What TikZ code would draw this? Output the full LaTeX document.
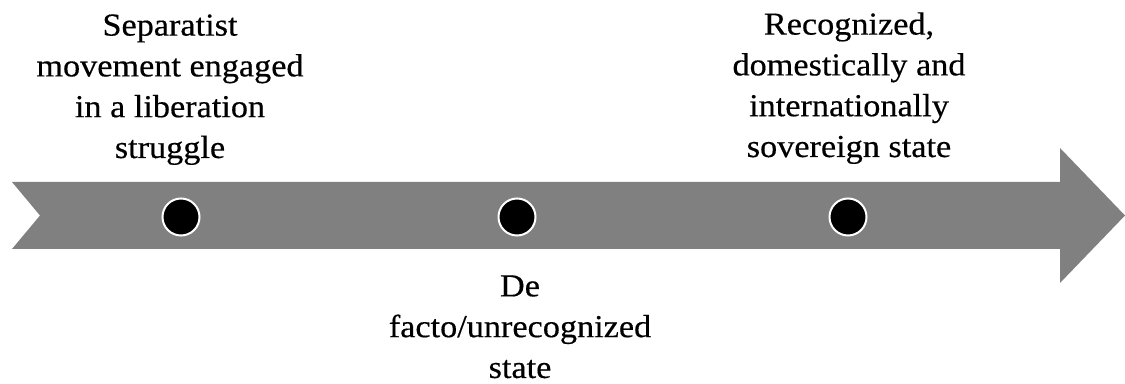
\documentclass[tikz,border=0pt]{standalone}
\usepackage{fontspec}
\setmainfont[FakeStretch=1.07,FakeBold=0.4]{Liberation Serif}
\definecolor{arrowgray}{RGB}{128,128,128}
\begin{document}
\begin{tikzpicture}[x=0.5pt,y=-0.5pt,
  lbl/.style={align=center, anchor=north, inner sep=0pt, text=black,
    font=\fontsize{16}{20.4}\selectfont},
  dot/.style={circle, fill=black, draw=white, line width=1pt,
    minimum size=18.5pt, inner sep=0pt}]
\useasboundingbox[fill=white] (0,0) rectangle (1125,384);
% arrow band
\fill[arrowgray] (12,182) -- (1060,182) -- (1060,148) -- (1125,215.5)
  -- (1060,283) -- (1060,249) -- (12,249) -- (40,215.5) -- cycle;
% dots
\node[dot] (d1) at (181,217) {};
\node[dot] (d2) at (517,217) {};
\node[dot] (d3) at (848,217) {};
% labels
\node[lbl] (t1) at (170,14) {Separatist\\movement engaged\\in a liberation\\struggle};
\node[lbl] (t2) at (520,275) {De\\facto/unrecognized\\state};
\node[lbl] (t3) at (849,12) {Recognized,\\domestically and\\internationally\\sovereign state};
\end{tikzpicture}
\end{document}
